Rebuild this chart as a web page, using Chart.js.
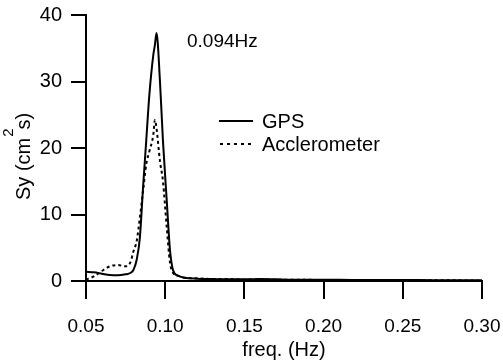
<!DOCTYPE html>
<html><head><meta charset="utf-8">
<script src="https://cdn.jsdelivr.net/npm/chart.js@4.4.1/dist/chart.umd.min.js"></script>
<style>html,body{margin:0;padding:0;background:#fff}#wrap{width:503px;height:362px}</style>
</head><body><div id="wrap"><canvas id="c" width="503" height="362"></canvas></div>
<script>
const freq = [0.050,0.055,0.060,0.065,0.070,0.075,0.078,0.080,0.082,0.084,0.086,0.088,0.090,0.0925,0.0935,0.0945,0.0967,0.0986,0.101,0.103,0.105,0.108,0.112,0.120,0.130,0.140,0.150,0.160,0.170,0.180,0.200,0.220,0.240,0.260,0.280,0.300];
const gps = [1.4,1.3,1.1,0.9,0.85,1.0,1.2,1.7,3.2,6.5,14,21,28,34,35.5,37.3,30,21,12,4.7,1.6,0.8,0.5,0.35,0.3,0.25,0.25,0.3,0.25,0.2,0.2,0.15,0.15,0.15,0.1,0.1];
const accel = [0.2,0.7,1.5,2.2,2.4,2.2,2.8,4.5,6,9.5,13.5,17.5,19.5,22,24.2,23,18,15,8,2.8,1.2,0.8,0.5,0.4,0.3,0.3,0.2,0.25,0.2,0.2,0.15,0.1,0.15,0.1,0.1,0.05];
const xTicks = [0.05,0.10,0.15,0.20,0.25,0.30];
const yTicks = [0,10,20,30,40];
const seriesNames = ['GPS','Acclerometer'];
const peakLabel = '0.094Hz';
const yTitleParts = ['Sy (cm', '2', 's)'];

const FONT = 'Liberation Sans, Arial, Helvetica, sans-serif';

const overlay = {
  id: 'overlay',
  afterDraw(chart) {
    const ctx = chart.ctx;
    ctx.save();
    ctx.setLineDash([]);
    ctx.strokeStyle = '#000';
    ctx.lineWidth = 2;
    ctx.fillStyle = '#000';
    ctx.textBaseline = 'middle';
    ctx.textAlign = 'left';
    ctx.font = '19px ' + FONT;
    ctx.fillText(peakLabel, 187, 42);
    ctx.font = '20px ' + FONT;
    ctx.beginPath(); ctx.moveTo(219, 121); ctx.lineTo(253, 121); ctx.stroke();
    ctx.setLineDash([3,4]);
    ctx.beginPath(); ctx.moveTo(220, 144); ctx.lineTo(253, 144); ctx.stroke();
    ctx.setLineDash([]);
    ctx.fillText(seriesNames[0], 262, 122);
    ctx.fillText(seriesNames[1], 262, 145);
    ctx.translate(30, 200);
    ctx.rotate(-Math.PI / 2);
    ctx.textBaseline = 'alphabetic';
    ctx.font = '20px ' + FONT;
    let w = 0;
    ctx.fillText(yTitleParts[0], 0, 0); w += ctx.measureText(yTitleParts[0]).width + 1;
    ctx.font = '15px ' + FONT;
    ctx.fillText(yTitleParts[1], w, -17); w += ctx.measureText(yTitleParts[1]).width - 1;
    ctx.font = '20px ' + FONT;
    ctx.fillText(yTitleParts[2], w, 0);
    ctx.restore();
  }
};

new Chart(document.getElementById('c'), {
  type: 'line',
  data: {
    datasets: [
      { label: seriesNames[0], data: freq.map((f,i)=>({x:f,y:gps[i]})), borderColor:'#000', borderWidth:2, pointRadius:0, cubicInterpolationMode:'monotone', fill:false },
      { label: seriesNames[1], data: freq.map((f,i)=>({x:f,y:accel[i]})), borderColor:'#000', borderWidth:2, borderDash:[3,3], pointRadius:0, cubicInterpolationMode:'monotone', fill:false }
    ]
  },
  options: {
    responsive: false,
    animation: false,
    devicePixelRatio: 1,
    layout: { padding: { left: 0, right: 21, top: 15, bottom: 0 } },
    plugins: { legend: { display: false }, tooltip: { enabled: false } },
    scales: {
      x: {
        type: 'linear', min: 0.05, max: 0.30,
        afterBuildTicks: s => { s.ticks = xTicks.map(v=>({value:v})); },
        afterFit: s => { s.height = 81; s.paddingLeft = 0; s.paddingRight = 0; },
        border: { display: true, color: '#000', width: 2 },
        grid: { display: true, drawOnChartArea: false, drawTicks: true, tickLength: 18, color: '#000', tickColor: '#000', lineWidth: 2, tickWidth: 2 },
        ticks: { color: '#000', font: { size: 19, family: FONT }, padding: 16, maxRotation: 0, callback: v => v.toFixed(2) },
        title: { display: true, text: 'freq. (Hz)', color: '#000', font: { size: 20, family: FONT }, padding: { top: 0, bottom: 0 } }
      },
      y: {
        min: 0, max: 40,
        afterBuildTicks: s => { s.ticks = yTicks.map(v=>({value:v})); },
        afterFit: s => { s.width = 86; s.paddingTop = 0; s.paddingBottom = 0; },
        border: { display: true, color: '#000', width: 2 },
        grid: { display: true, drawOnChartArea: false, drawTicks: true, tickLength: 15, color: '#000', tickColor: '#000', lineWidth: 2, tickWidth: 2 },
        ticks: { color: '#000', font: { size: 20, family: FONT }, padding: 9 },
        title: { display: false }
      }
    }
  },
  plugins: [overlay]
});
</script></body></html>
